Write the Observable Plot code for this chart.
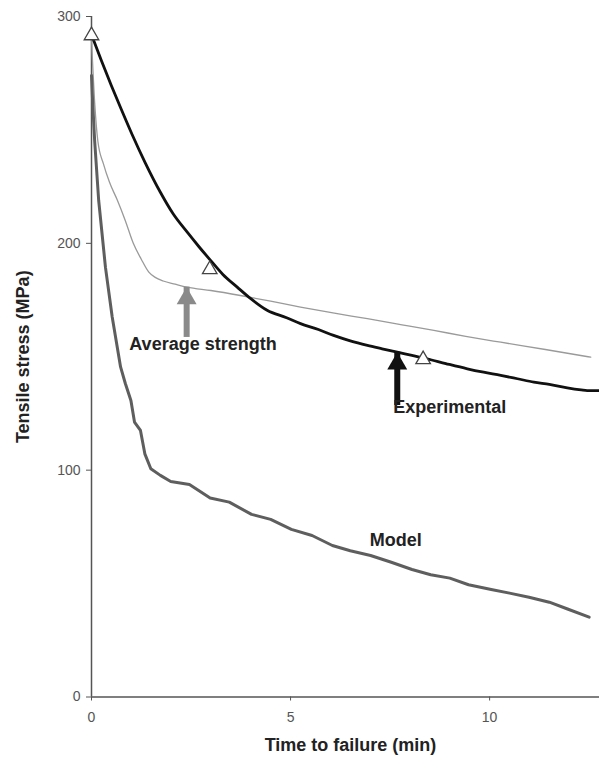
<!DOCTYPE html>
<html>
<head>
<meta charset="utf-8">
<script src="https://cdn.jsdelivr.net/npm/d3@7"></script>
<script src="https://cdn.jsdelivr.net/npm/@observablehq/plot@0.6"></script>
<style>
  html, body { margin: 0; padding: 0; background: #fff; }
  #chart svg { display: block; }
</style>
</head>
<body>
<div id="chart"></div>
<script>
// Time to failure (min) and tensile stress (MPa) for each curve
const expTime   = [0, 0.25, 0.5, 0.75, 1.02, 1.35, 1.73, 2.05, 2.4, 2.7, 2.99, 3.3, 3.66, 4.0, 4.41, 4.9, 5.25, 5.7, 6.08, 6.5, 6.93, 7.3, 7.68, 8.05, 8.43, 8.9, 9.44, 9.85, 10.28, 10.7, 11.11, 11.5, 11.95, 12.3, 12.45, 12.76];
const expStress = [292, 280.5, 269.5, 259, 248, 235.5, 222.5, 213, 205, 198.5, 192.5, 186.3, 180.7, 175.6, 170.5, 167.2, 164.6, 162, 159.4, 157, 155, 153.5, 152, 150.6, 149.1, 147, 144.7, 143.2, 141.8, 140.3, 138.8, 137.8, 136.3, 135.4, 135.1, 135.1];

const avgTime   = [0, 0.08, 0.16, 0.3, 0.45, 0.65, 0.85, 1.05, 1.25, 1.44, 1.6, 1.8, 2.1, 2.4, 3.0, 3.74, 4.5, 5.25, 6.1, 6.93, 7.8, 8.6, 9.4, 10.28, 11.4, 12.54];
const avgStress = [290, 262, 245, 235, 227, 219, 210, 200, 193, 187.3, 185, 183.4, 182, 180.7, 179.2, 177, 174.5, 171.9, 169.2, 166.8, 164.1, 161.6, 159, 156.4, 153.2, 149.8];

const modelTime   = [0, 0.03, 0.08, 0.18, 0.35, 0.52, 0.73, 0.85, 0.99, 1.08, 1.23, 1.34, 1.49, 1.73, 1.99, 2.46, 2.98, 3.46, 4.02, 4.5, 5.02, 5.54, 6.05, 6.5, 7.01, 7.53, 8.05, 8.52, 9.0, 9.47, 10.04, 10.5, 10.99, 11.5, 11.94, 12.5];
const modelStress = [274, 262, 245, 219, 189.5, 167.5, 145.5, 138.2, 130.7, 121.2, 117.5, 107.2, 100.6, 97.7, 95.0, 93.7, 87.7, 85.9, 80.5, 78.3, 73.9, 71.2, 66.8, 64.5, 62.4, 59.4, 56.2, 53.9, 52.4, 49.5, 47.4, 45.8, 44.0, 41.8, 38.9, 35.2];

// Measured test points (open triangles)
const pointTime   = [0, 2.97, 8.33];
const pointStress = [291.6, 188.5, 148.8];

// Curve annotations: label, arrow position and arrow extent
const labelText   = ["Average strength", "Experimental", "Model"];
const labelTime   = [2.80, 9.0, 7.64];
const labelStress = [155.4, 127.8, 69.1];

const arrowName   = ["Average strength", "Experimental"];
const arrowTime   = [2.39, 7.68];
const arrowTip    = [180.7, 152];
const arrowTail   = [163.8, 133.8];

// Axis ticks
const xTicks = [0, 5, 10];
const yTicks = [0, 100, 200, 300];

const zipXY = (xs, ys) => xs.map((x, i) => ({t: x, stress: ys[i]}));
const experimental = zipXY(expTime, expStress);
const average = zipXY(avgTime, avgStress);
const model = zipXY(modelTime, modelStress);
const points = zipXY(pointTime, pointStress);
const labels = labelText.map((text, i) => ({text, t: labelTime[i], stress: labelStress[i]}));
const arrows = arrowName.map((name, i) => ({name, t: arrowTime[i], tip: arrowTip[i], tail: arrowTail[i]}));
const arrowColor = {"Average strength": "#8a8a8a", "Experimental": "#111"};

const axisColor = "#555";
const font = "'Liberation Sans', Arial, Helvetica, sans-serif";

const chart = Plot.plot({
  width: 599,
  height: 759,
  marginLeft: 91,
  marginRight: 0,
  marginTop: 16,
  marginBottom: 62.5,
  style: {fontFamily: font, background: "#fff"},
  x: {domain: [0, 12.76]},
  y: {domain: [0, 300]},
  marks: [
    // axes
    Plot.ruleY([0], {stroke: axisColor, strokeWidth: 1.5}),
    Plot.ruleX([0], {y1: 0, y2: 300, stroke: axisColor, strokeWidth: 1.5}),
    Plot.axisX({ticks: xTicks, tickSize: 4, tickPadding: 11, fontSize: 14, color: axisColor, label: null}),
    Plot.axisY({ticks: yTicks, tickSize: 5, tickPadding: 6, fontSize: 14, color: axisColor, label: null}),
    Plot.text(["Time to failure (min)"], {
      text: d => d, frameAnchor: "bottom", textAnchor: "middle", lineAnchor: "middle",
      dx: 5, dy: 48.5, fontSize: 18, fontWeight: "bold", fill: "#222"
    }),
    Plot.text(["Tensile stress (MPa)"], {
      text: d => d, frameAnchor: "left", textAnchor: "middle", lineAnchor: "middle",
      dx: -68, rotate: -90, fontSize: 18, fontWeight: "bold", fill: "#222"
    }),

    // curves
    Plot.line(average, {x: "t", y: "stress", curve: "monotone-x", stroke: "#9a9a9a", strokeWidth: 1.3}),
    Plot.line(model, {x: "t", y: "stress", stroke: "#5e5e5e", strokeWidth: 3}),
    Plot.line(experimental, {x: "t", y: "stress", curve: "monotone-x", stroke: "#111", strokeWidth: 2.8}),

    // measured points
    Plot.dot(points, {x: "t", y: "stress", symbol: "triangle", r: 5.4, fill: "#fff", stroke: "#444", strokeWidth: 1.3}),

    // arrows: shaft plus filled head
    Plot.ruleX(arrows, {x: "t", y1: "tail", y2: "tip", insetTop: 12, stroke: d => arrowColor[d.name], strokeWidth: 6}),
    Plot.dot(arrows, {x: "t", y: "tip", dy: 11.5, symbol: "triangle", r: 7.4, fill: d => arrowColor[d.name], stroke: "none"}),

    // curve labels
    Plot.text(labels, {x: "t", y: "stress", text: "text", fontSize: 18, fontWeight: "bold", fill: "#222"})
  ]
});

document.getElementById("chart").appendChild(chart);
</script>
</body>
</html>
